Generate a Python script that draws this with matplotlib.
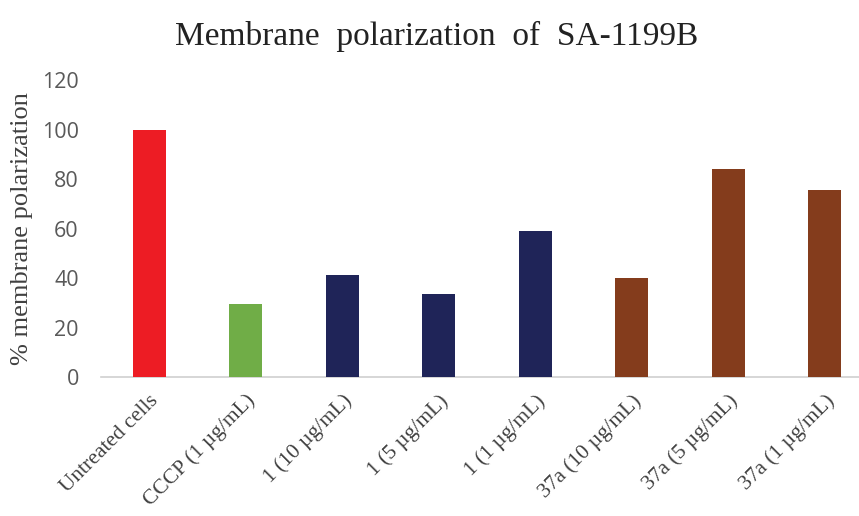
import matplotlib
matplotlib.use("Agg")
import matplotlib.pyplot as plt

categories = ["Untreated cells", "CCCP (1 µg/mL)", "1 (10 µg/mL)", "1 (5 µg/mL)",
              "1 (1 µg/mL)", "37a (10 µg/mL)", "37a (5 µg/mL)", "37a (1 µg/mL)"]
values = [100, 29.7, 41.4, 33.6, 59.2, 40.0, 84.0, 75.5]
colors = ["#ed1c24", "#70ad47", "#1f2458", "#1f2458", "#1f2458", "#843c1c", "#843c1c", "#843c1c"]
yticks = [0, 20, 40, 60, 80, 100, 120]

fig = plt.figure(figsize=(8.59, 5.16), dpi=100)
ax = fig.add_axes([0.1176, 0.269, 0.8824, 0.576])
x = range(len(categories))
ax.bar(x, values, width=0.34, color=colors, zorder=3)
ax.set_xlim(-0.5, 7.355)
ax.set_ylim(0, 120)
ax.set_yticks(yticks)
ax.set_yticklabels([str(v) for v in yticks], family="Open Sans", fontsize=15.5, color="#595959")
ax.set_xticks(list(x))
ax.set_xticklabels(categories, rotation=45, ha="right", rotation_mode="anchor",
                   family="Liberation Serif", fontsize=15.5, color="#404040")
ax.tick_params(axis="both", length=0)
ax.tick_params(axis="y", pad=16)
ax.tick_params(axis="x", pad=10)
for s in ["top", "right", "left"]:
    ax.spines[s].set_visible(False)
ax.spines["bottom"].set_color("#d0d0d0")
ax.spines["bottom"].set_linewidth(1.2)
ax.set_ylabel("% membrane polarization", family="Liberation Serif", fontsize=19, color="#404040", labelpad=6)
fig.text(0.508, 0.93, "Membrane  polarization  of  SA-1199B", ha="center", va="center",
         family="Liberation Serif", fontsize=24, color="#222222")
fig.savefig("out.png", dpi=100)
